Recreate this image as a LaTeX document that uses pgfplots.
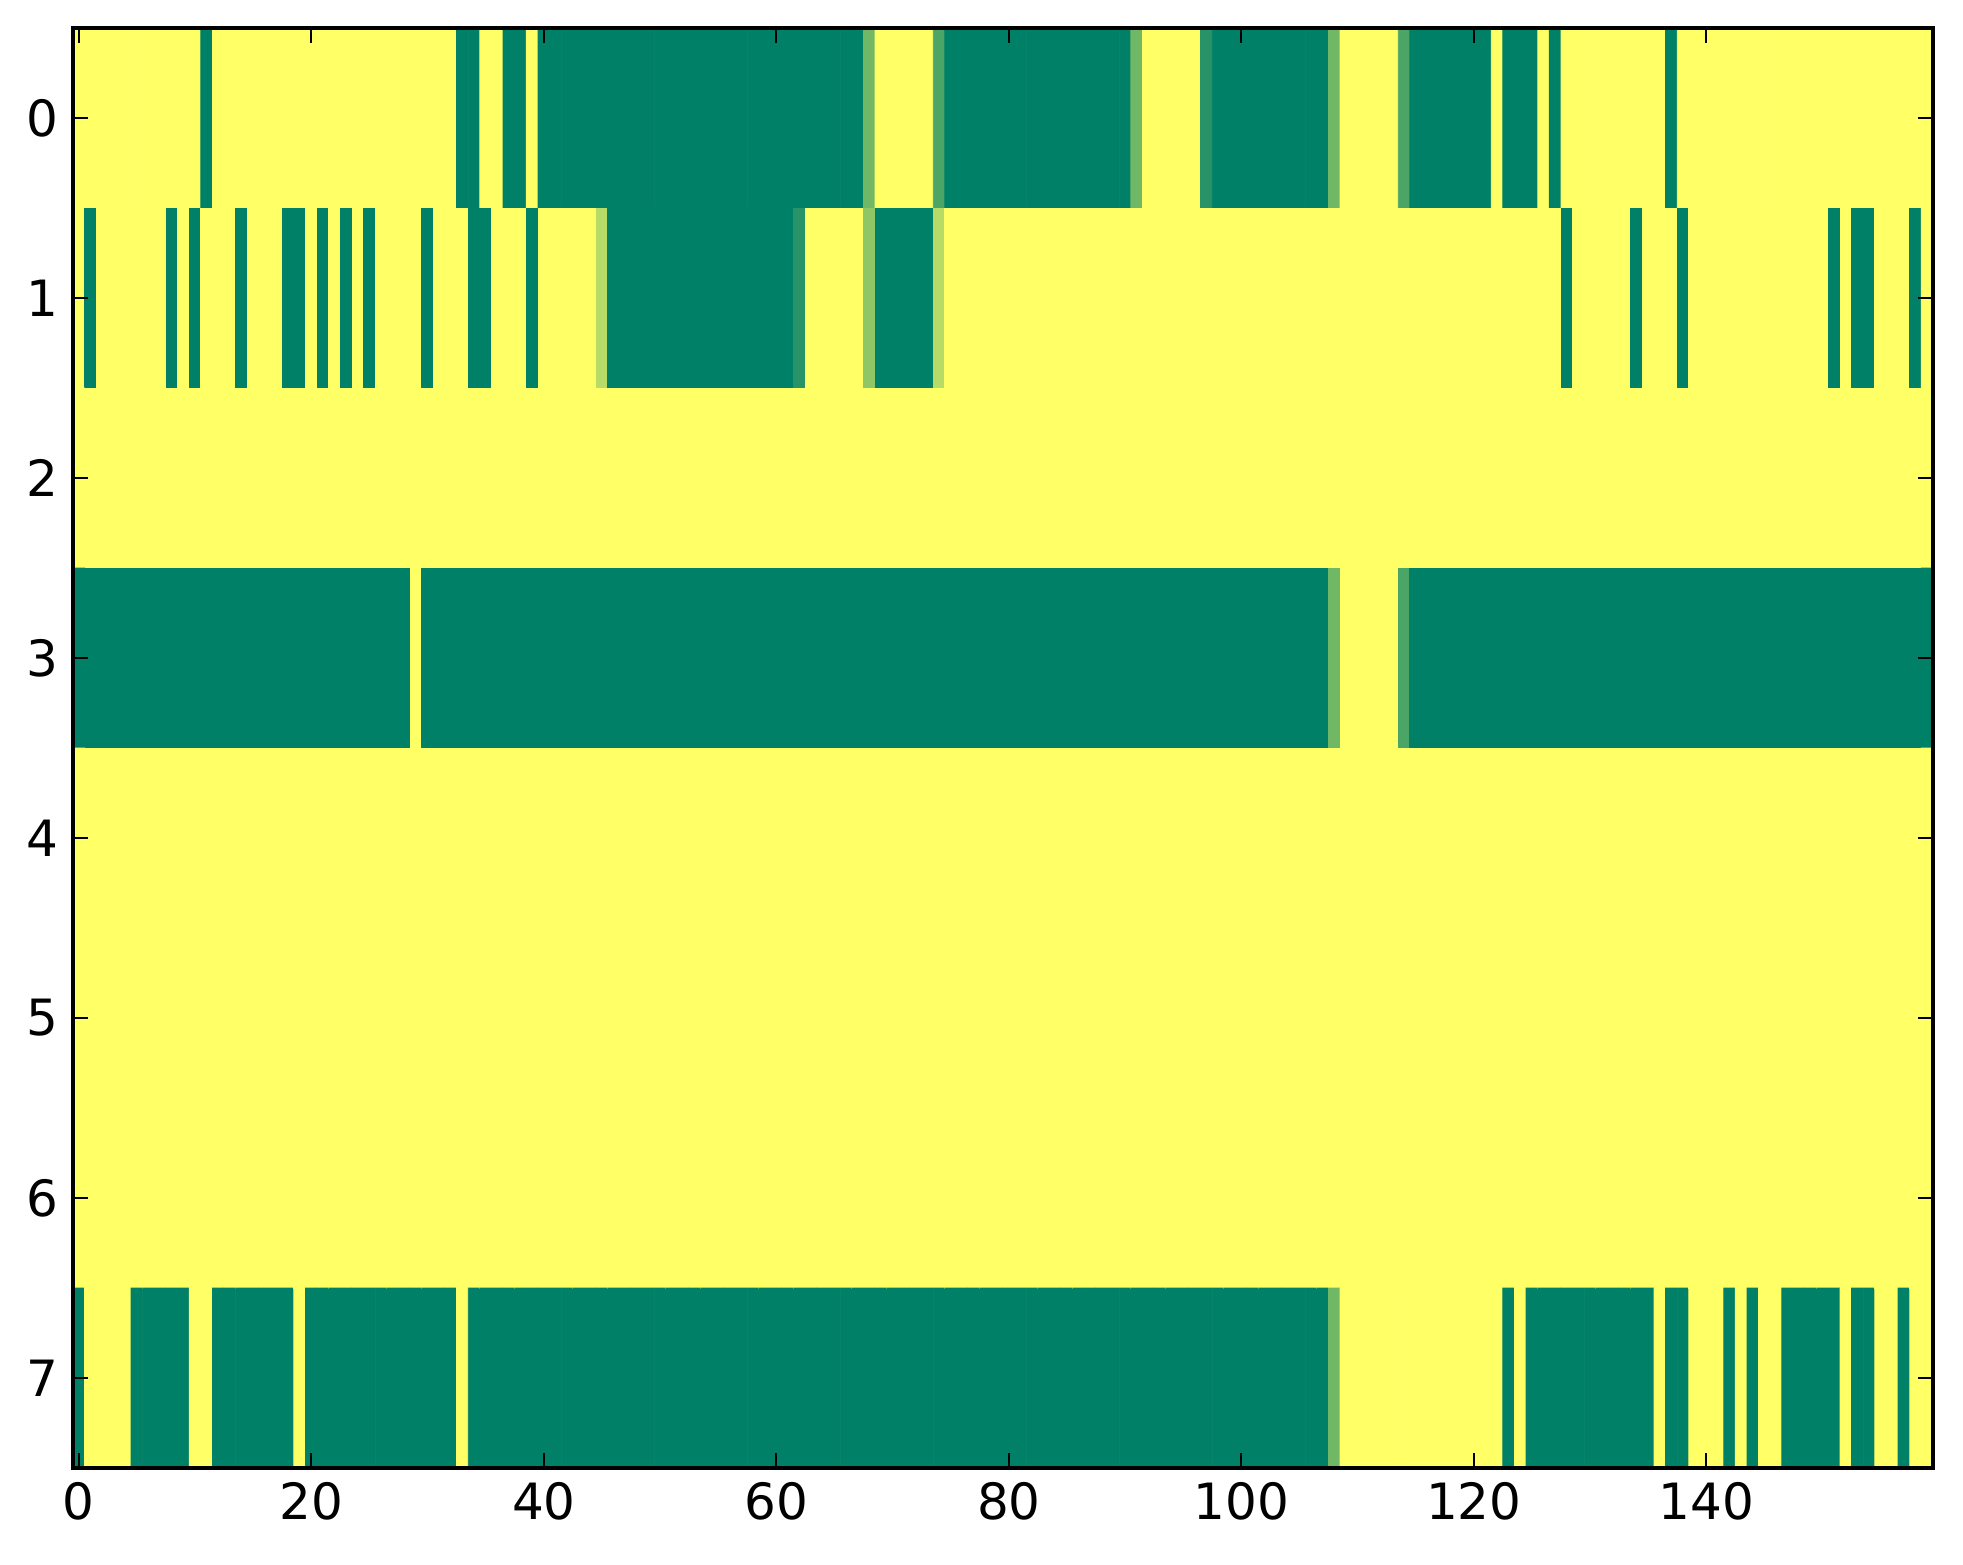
\documentclass[border=0pt]{standalone}
\usepackage{fontspec}
\setmainfont{DejaVu Sans}
\usepackage{pgfplots}
\usepackage{pgfplotstable}
\pgfplotsset{compat=1.18}
\pgfplotstableread[row sep=\\]{
c\\
1\\1\\1\\1\\1\\1\\1\\1\\1\\1\\1\\0\\1\\1\\1\\1\\1\\1\\1\\1\\
1\\1\\1\\1\\1\\1\\1\\1\\1\\1\\1\\1\\1\\0\\0\\1\\1\\0\\0\\1\\
0\\0\\0\\0\\0\\0\\0\\0\\0\\0\\0\\0\\0\\0\\0\\0\\0\\0\\0\\0\\
0\\0\\0\\0\\0\\0\\0\\0\\0.44\\1\\1\\1\\1\\1\\0.29\\0\\0\\0\\0\\0\\
0\\0\\0\\0\\0\\0\\0\\0\\0\\0\\0\\0.44\\1\\1\\1\\1\\1\\0.15\\0\\0\\
0\\0\\0\\0\\0\\0\\0\\0\\0.44\\1\\1\\1\\1\\1\\0.29\\0\\0\\0\\0\\0\\
0\\0\\1\\0\\0\\0\\1\\0\\1\\1\\1\\1\\1\\1\\1\\1\\1\\0\\1\\1\\
1\\1\\1\\1\\1\\1\\1\\1\\1\\1\\1\\1\\1\\1\\1\\1\\1\\1\\1\\1\\
1\\0\\1\\1\\1\\1\\1\\1\\0\\1\\0\\1\\1\\1\\0\\1\\1\\1\\0\\0\\
1\\0\\1\\0\\1\\0\\1\\1\\1\\1\\0\\1\\1\\1\\0\\0\\1\\1\\1\\0\\
1\\1\\1\\1\\1\\0.71\\0\\0\\0\\0\\0\\0\\0\\0\\0\\0\\0\\0\\0\\0\\
0\\0\\0.15\\1\\1\\1\\1\\1\\0.56\\0\\0\\0\\0\\0\\0.71\\1\\1\\1\\1\\1\\
1\\1\\1\\1\\1\\1\\1\\1\\1\\1\\1\\1\\1\\1\\1\\1\\1\\1\\1\\1\\
1\\1\\1\\1\\1\\1\\1\\1\\1\\1\\1\\1\\1\\1\\1\\1\\1\\1\\1\\1\\
1\\1\\1\\1\\1\\1\\1\\1\\0\\1\\1\\1\\1\\1\\0\\1\\1\\1\\0\\1\\
1\\1\\1\\1\\1\\1\\1\\1\\1\\1\\1\\0\\1\\0\\0\\1\\1\\1\\0\\1\\
1\\1\\1\\1\\1\\1\\1\\1\\1\\1\\1\\1\\1\\1\\1\\1\\1\\1\\1\\1\\
1\\1\\1\\1\\1\\1\\1\\1\\1\\1\\1\\1\\1\\1\\1\\1\\1\\1\\1\\1\\
1\\1\\1\\1\\1\\1\\1\\1\\1\\1\\1\\1\\1\\1\\1\\1\\1\\1\\1\\1\\
1\\1\\1\\1\\1\\1\\1\\1\\1\\1\\1\\1\\1\\1\\1\\1\\1\\1\\1\\1\\
1\\1\\1\\1\\1\\1\\1\\1\\1\\1\\1\\1\\1\\1\\1\\1\\1\\1\\1\\1\\
1\\1\\1\\1\\1\\1\\1\\1\\1\\1\\1\\1\\1\\1\\1\\1\\1\\1\\1\\1\\
1\\1\\1\\1\\1\\1\\1\\1\\1\\1\\1\\1\\1\\1\\1\\1\\1\\1\\1\\1\\
1\\1\\1\\1\\1\\1\\1\\1\\1\\1\\1\\1\\1\\1\\1\\1\\1\\1\\1\\1\\
0\\0\\0\\0\\0\\0\\0\\0\\0\\0\\0\\0\\0\\0\\0\\0\\0\\0\\0\\0\\
0\\0\\0\\0\\0\\0\\0\\0\\0\\1\\0\\0\\0\\0\\0\\0\\0\\0\\0\\0\\
0\\0\\0\\0\\0\\0\\0\\0\\0\\0\\0\\0\\0\\0\\0\\0\\0\\0\\0\\0\\
0\\0\\0\\0\\0\\0\\0\\0\\0\\0\\0\\0\\0\\0\\0\\0\\0\\0\\0\\0\\
0\\0\\0\\0\\0\\0\\0\\0\\0\\0\\0\\0\\0\\0\\0\\0\\0\\0\\0\\0\\
0\\0\\0\\0\\0\\0\\0\\0\\0.44\\1\\1\\1\\1\\1\\0.29\\0\\0\\0\\0\\0\\
0\\0\\0\\0\\0\\0\\0\\0\\0\\0\\0\\0\\0\\0\\0\\0\\0\\0\\0\\0\\
0\\0\\0\\0\\0\\0\\0\\0\\0\\0\\0\\0\\0\\0\\0\\0\\0\\0\\0\\0\\
1\\1\\1\\1\\1\\1\\1\\1\\1\\1\\1\\1\\1\\1\\1\\1\\1\\1\\1\\1\\
1\\1\\1\\1\\1\\1\\1\\1\\1\\1\\1\\1\\1\\1\\1\\1\\1\\1\\1\\1\\
1\\1\\1\\1\\1\\1\\1\\1\\1\\1\\1\\1\\1\\1\\1\\1\\1\\1\\1\\1\\
1\\1\\1\\1\\1\\1\\1\\1\\1\\1\\1\\1\\1\\1\\1\\1\\1\\1\\1\\1\\
1\\1\\1\\1\\1\\1\\1\\1\\1\\1\\1\\1\\1\\1\\1\\1\\1\\1\\1\\1\\
1\\1\\1\\1\\1\\1\\1\\1\\1\\1\\1\\1\\1\\1\\1\\1\\1\\1\\1\\1\\
1\\1\\1\\1\\1\\1\\1\\1\\1\\1\\1\\1\\1\\1\\1\\1\\1\\1\\1\\1\\
1\\1\\1\\1\\1\\1\\1\\1\\1\\1\\1\\1\\1\\1\\1\\1\\1\\1\\1\\1\\
1\\1\\1\\1\\1\\1\\1\\1\\1\\1\\1\\1\\1\\1\\1\\1\\1\\1\\1\\1\\
1\\1\\1\\1\\1\\1\\1\\1\\1\\1\\1\\1\\1\\1\\1\\1\\1\\1\\1\\1\\
1\\1\\1\\1\\1\\1\\1\\1\\1\\1\\1\\1\\1\\1\\1\\1\\1\\1\\1\\1\\
1\\1\\1\\1\\1\\1\\1\\1\\1\\1\\1\\1\\1\\1\\1\\1\\1\\1\\1\\1\\
1\\1\\1\\1\\1\\1\\1\\1\\1\\1\\1\\1\\1\\1\\1\\1\\1\\1\\1\\1\\
1\\1\\1\\1\\1\\1\\1\\1\\1\\1\\1\\1\\1\\1\\1\\1\\1\\1\\1\\1\\
1\\1\\1\\1\\1\\1\\1\\1\\1\\1\\1\\1\\1\\1\\1\\1\\1\\1\\1\\1\\
1\\1\\1\\1\\1\\1\\1\\1\\1\\1\\1\\1\\1\\1\\1\\1\\1\\1\\1\\1\\
1\\1\\1\\1\\1\\1\\1\\1\\1\\1\\1\\1\\1\\1\\1\\1\\1\\1\\1\\1\\
1\\1\\1\\1\\1\\1\\1\\1\\1\\1\\1\\1\\1\\1\\1\\1\\1\\1\\1\\1\\
1\\1\\1\\1\\1\\1\\1\\1\\1\\1\\1\\1\\1\\1\\1\\1\\1\\1\\1\\1\\
1\\1\\1\\1\\1\\1\\1\\1\\1\\1\\1\\1\\1\\1\\1\\1\\1\\1\\1\\1\\
1\\1\\1\\1\\1\\1\\1\\1\\1\\1\\1\\1\\1\\1\\1\\1\\1\\1\\1\\1\\
1\\1\\1\\1\\1\\1\\1\\1\\1\\1\\1\\1\\1\\1\\1\\1\\1\\1\\1\\1\\
1\\1\\1\\1\\1\\1\\1\\1\\1\\1\\1\\1\\1\\1\\1\\1\\1\\1\\1\\1\\
1\\1\\1\\1\\1\\1\\1\\1\\1\\1\\1\\1\\1\\1\\1\\1\\1\\1\\1\\1\\
0\\1\\1\\1\\1\\0\\0\\0\\0\\0\\1\\1\\0\\0\\0\\0\\0\\0\\0\\1\\
0\\0\\0\\0\\0\\0\\0\\0\\0\\0\\0\\0\\0\\1\\0\\0\\0\\0\\0\\0\\
0\\0\\0\\0\\0\\0\\0\\0\\0\\0\\0\\0\\0\\0\\0\\0\\0\\0\\0\\0\\
0\\0\\0\\0\\0\\0\\0\\0\\0\\0\\0\\0\\0\\0\\0\\0\\0\\0\\0\\0\\
0\\0\\0\\0\\0\\0\\0\\0\\0\\0\\0\\0\\0\\0\\0\\0\\0\\0\\0\\0\\
0\\0\\0\\0\\0\\0\\0\\0\\0.44\\1\\1\\1\\1\\1\\1\\1\\1\\1\\1\\1\\
1\\1\\1\\0\\1\\0\\0\\0\\0\\0\\0\\0\\0\\0\\0\\0\\1\\0\\0\\1\\
1\\1\\0\\1\\0\\1\\1\\0\\0\\0\\0\\0\\1\\0\\0\\1\\1\\0\\1\\1\\
}\celltable
\pgfplotstablecreatecol[expr={mod(\pgfplotstablerow,160)}]{col}\celltable
\pgfplotstablecreatecol[expr={floor(\pgfplotstablerow/160)}]{row}\celltable
\begin{document}
\begin{tikzpicture}
\begin{axis}[
  scale only axis,
  width=446.4pt, height=345.6pt,
  xmin=-0.5, xmax=159.5, ymin=-0.5, ymax=7.5,
  y dir=reverse,
  enlargelimits=false,
  axis on top,
  xtick={0,20,...,140}, ytick={0,...,7},
  tick align=inside, tick pos=both,
  major tick length=3.6pt,
  every tick/.style={black, line width=0.5pt},
  axis line style={line width=1pt},
  colormap={summer}{rgb=(0,0.5,0.4) rgb=(1,1,0.4)},
  point meta min=0, point meta max=1,
  /pgf/number format/assume math mode=true,
  ticklabel style={font=\fontsize{12}{14}\selectfont},
]
\addplot[matrix plot*, mesh/cols=160, shader=faceted, faceted color=mapped color, line width=0.2pt, point meta=explicit]
  table[x=col, y=row, meta=c] {\celltable};
\end{axis}
\pgfresetboundingbox
\path[use as bounding box] (current axis.south west) ++(-17.52pt,-23.04pt) rectangle ++(471.12pt,375.36pt);
\end{tikzpicture}
\end{document}
